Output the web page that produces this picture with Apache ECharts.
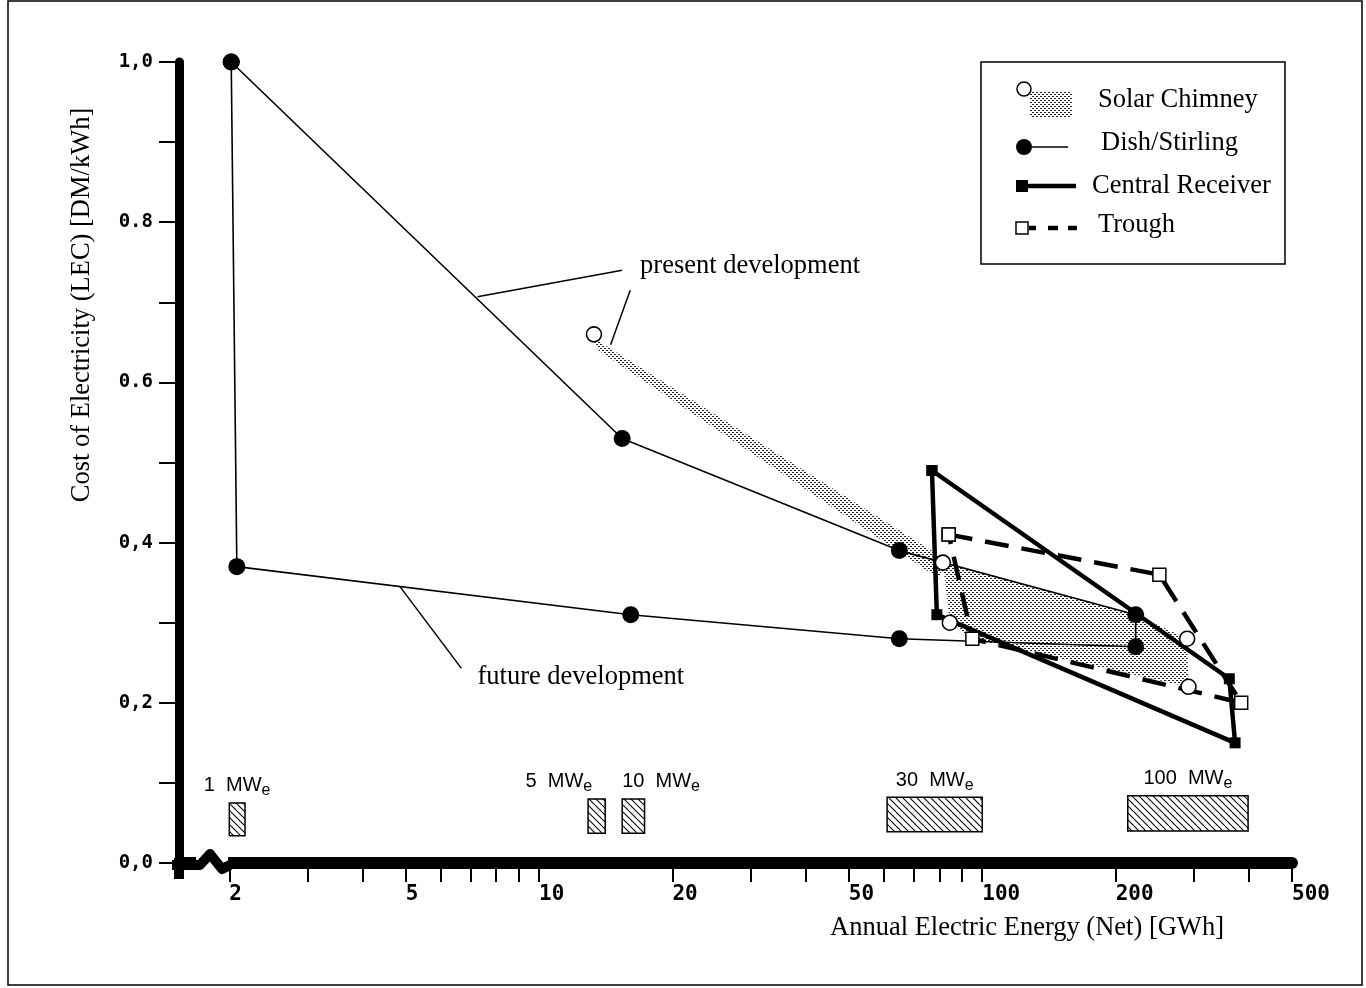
<!DOCTYPE html>
<html><head><meta charset="utf-8">
<script src="https://cdn.jsdelivr.net/npm/echarts@6/dist/echarts.min.js"></script>
<style>html,body{margin:0;padding:0;background:#fff}#c{width:1366px;height:988px}</style>
</head><body><div id="c"></div>
<script>
// ---------------- data ----------------
const xTickValues = [2,3,4,5,6,7,8,9,10,20,30,40,50,60,70,80,90,100,200,300,400,500];
const xLabelValues = [2,5,10,20,50,100,200,500];
const yTickValues = [0, 0.2, 0.4, 0.6, 0.8, 1.0];
const yTickLabels = ['0,0', '0,2', '0,4', '0.6', '0.8', '1,0'];

// Dish/Stirling (closed outline: present development on top, future development below)
const dishX = [2.02, 15.4, 65, 222, 222, 65, 16.1, 2.08, 2.02];
const dishY = [1.00, 0.53, 0.39, 0.31, 0.27, 0.28, 0.31, 0.37, 1.00];

// Central Receiver
const receiverX = [77, 361, 372, 79, 77];
const receiverY = [0.49, 0.23, 0.15, 0.31, 0.49];

// Trough
const troughX = [84, 251, 384, 95, 84];
const troughY = [0.41, 0.36, 0.20, 0.28, 0.41];

// Solar Chimney points
const chimneyX = [13.3, 81.5, 84.5, 290, 292];
const chimneyY = [0.66, 0.375, 0.30, 0.28, 0.22];
// Solar Chimney shaded areas
const chimneyBandX = [13.3, 82, 80, 13.6];
const chimneyBandY = [0.655, 0.38, 0.355, 0.64];
const chimneyAreaX = [81.5, 222, 290, 292, 95, 84.5];
const chimneyAreaY = [0.375, 0.31, 0.28, 0.22, 0.28, 0.30];

// plant sizes (MWe) and their energy ranges
const plantLabels = ['1', '5', '10', '30', '100'];
const plantFrom = [2.0, 12.9, 15.4, 61, 213];
const plantTo = [2.17, 14.1, 17.3, 100, 398];
const plantYLow = [0.034, 0.037, 0.037, 0.039, 0.040];
const plantYHigh = [0.075, 0.080, 0.080, 0.082, 0.084];
const plantAlign = ['center', 'right', 'left', 'center', 'center'];

// annotations
const annoTexts = ['present development', 'future development'];
const annoX = [16.9, 7.26];
const annoY = [0.745, 0.232];
const leader1X = [7.26, 15.4], leader1Y = [0.707, 0.740];
const leader2X = [16.06, 14.5], leader2Y = [0.715, 0.647];
const leader3X = [4.84, 6.68], leader3Y = [0.346, 0.243];

// ---------------- helpers ----------------
const zip = (xs, ys) => xs.map((x, i) => [x, ys[i]]);
function makeDots() {
  const c = document.createElement('canvas'); c.width = 4; c.height = 4;
  const g = c.getContext('2d'); g.fillStyle = '#222';
  g.fillRect(0, 0, 2, 1); g.fillRect(2, 2, 2, 1);
  return c;
}
function makeHatch() {
  const c = document.createElement('canvas'); c.width = 7; c.height = 7;
  const g = c.getContext('2d'); g.strokeStyle = '#000'; g.lineWidth = 1.1;
  for (const k of [-7, 0, 7]) { g.beginPath(); g.moveTo(k, 0); g.lineTo(k + 7, 7); g.stroke(); }
  return c;
}
const dotPattern = { image: makeDots(), repeat: 'repeat' };
const hatchPattern = { image: makeHatch(), repeat: 'repeat' };
const SERIF = '"Liberation Serif", "Times New Roman", serif';
const MONO = '"DejaVu Sans Mono", monospace';
const SANS = '"Liberation Sans", Arial, sans-serif';
const FS = 26.5;

const chart = echarts.init(document.getElementById('c'), null, { renderer: 'canvas' });

const leaderSeries = [[leader1X, leader1Y], [leader2X, leader2Y], [leader3X, leader3Y]].map(([xs, ys]) => ({
  type: 'line', data: zip(xs, ys), symbol: 'none', silent: true, z: 2,
  lineStyle: { color: '#000', width: 1.5 }
}));

const option = {
  animation: false,
  backgroundColor: '#fff',
  grid: { left: 179, right: 74, top: 62, bottom: 125, containLabel: false },
  xAxis: {
    type: 'log', min: 1.54, max: 500, logBase: 10,
    axisLine: { show: true, lineStyle: { color: '#000', width: 12 } },
    axisTick: { show: true, customValues: xTickValues, length: 19, lineStyle: { color: '#000', width: 2 } },
    axisLabel: { show: true, customValues: xLabelValues, align: 'left', margin: 21,
      fontFamily: MONO, fontSize: 21, fontWeight: 'bold', color: '#000',
      formatter: v => String(Math.round(v)) },
    splitLine: { show: false }, minorTick: { show: false }
  },
  yAxis: {
    type: 'value', min: 0, max: 1.0, interval: 0.1,
    axisLine: { show: true, lineStyle: { color: '#000', width: 9 } },
    axisTick: { show: true, length: 20, lineStyle: { color: '#000', width: 2 } },
    axisLabel: { show: true, margin: 26, fontFamily: MONO, fontSize: 19, fontWeight: 'bold', color: '#000',
      formatter: v => {
        const i = yTickValues.findIndex(t => Math.abs(t - v) < 1e-6);
        return i >= 0 ? yTickLabels[i] : '';
      } },
    splitLine: { show: false }
  },
  series: [
    {
      type: 'custom', name: 'Solar Chimney area', silent: true, z: 1,
      data: [[chimneyBandX[0], chimneyBandY[0], 0], [chimneyAreaX[0], chimneyAreaY[0], 1]],
      encode: { x: 0, y: 1 },
      renderItem(params, api) {
        const k = api.value(2);
        const xs = k === 0 ? chimneyBandX : chimneyAreaX;
        const ys = k === 0 ? chimneyBandY : chimneyAreaY;
        const pts = xs.map((x, i) => api.coord([x, ys[i]]));
        return { type: 'polygon', shape: { points: pts }, style: { fill: dotPattern, stroke: null } };
      }
    },
    {
      type: 'line', name: 'Dish/Stirling', data: zip(dishX, dishY), z: 3,
      symbol: 'circle', symbolSize: 17, showAllSymbol: true,
      itemStyle: { color: '#000', opacity: 1 }, lineStyle: { color: '#000', width: 1.6 }
    },
    {
      type: 'line', name: 'Central Receiver', data: zip(receiverX, receiverY), z: 3,
      symbol: 'rect', symbolSize: 11, showAllSymbol: true,
      itemStyle: { color: '#000', opacity: 1 }, lineStyle: { color: '#000', width: 4.5 }
    },
    {
      type: 'line', name: 'Trough', data: zip(troughX, troughY), z: 4,
      symbol: 'rect', symbolSize: 13, showAllSymbol: true,
      itemStyle: { color: '#fff', borderColor: '#000', borderWidth: 1.5, opacity: 1 },
      lineStyle: { color: '#000', width: 4.5, type: [24, 13] }
    },
    {
      type: 'scatter', name: 'Solar Chimney', data: zip(chimneyX, chimneyY), z: 5,
      symbol: 'circle', symbolSize: 15,
      itemStyle: { color: '#fff', borderColor: '#000', borderWidth: 1.6, opacity: 1 }
    },
    ...leaderSeries,
    {
      type: 'custom', name: 'annotations', silent: true, z: 6,
      data: annoX.map((x, i) => [x, annoY[i], i]),
      encode: { x: 0, y: 1 },
      renderItem(params, api) {
        const p = api.coord([api.value(0), api.value(1)]);
        return { type: 'text', x: p[0], y: p[1],
          style: { text: annoTexts[api.value(2)], fontFamily: SERIF, fontSize: FS, fill: '#000',
            align: 'left', verticalAlign: 'middle' } };
      }
    },
    {
      type: 'custom', name: 'plant size', silent: true, z: 6,
      data: plantLabels.map((l, i) => [plantFrom[i], plantTo[i], plantYLow[i], plantYHigh[i], i]),
      encode: { x: [0, 1], y: [2, 3] },
      renderItem(params, api) {
        const i = api.value(4);
        const a = api.coord([api.value(0), api.value(3)]);
        const b = api.coord([api.value(1), api.value(2)]);
        const al = plantAlign[i];
        const lx = al === 'center' ? (a[0] + b[0]) / 2 : (al === 'left' ? a[0] : b[0] - 13);
        return { type: 'group', children: [
          { type: 'rect', shape: { x: a[0], y: a[1], width: b[0] - a[0], height: b[1] - a[1] },
            style: { fill: hatchPattern, stroke: '#000', lineWidth: 1.5 } },
          { type: 'text', x: lx, y: a[1] - 17,
            style: { text: '{n|' + plantLabels[i] + '}  {m|MW}{s|e}', align: al, verticalAlign: 'middle',
              fontFamily: SANS, fontSize: 20, fill: '#000',
              rich: { n: { fontFamily: SANS, fontSize: 20, fill: '#000' },
                      m: { fontFamily: SANS, fontSize: 20, fill: '#000' },
                      s: { fontFamily: SANS, fontSize: 16, fill: '#000', padding: [10, 0, 0, 0] } } } }
        ] };
      }
    }
  ],
  graphic: [
    { type: 'rect', shape: { x: 8, y: 1, width: 1354, height: 984 }, style: { fill: null, stroke: '#000', lineWidth: 1.5 }, z: 0 },
    // axis break
    { type: 'rect', shape: { x: 174, y: 858, width: 10, height: 21 }, style: { fill: '#000' }, z: 50 },
    { type: 'rect', shape: { x: 196, y: 855, width: 32, height: 18 }, style: { fill: '#fff' }, z: 50 },
    { type: 'polyline', shape: { points: [[172, 865], [200, 865], [210, 854], [222, 869], [230, 865]] },
      style: { stroke: '#000', lineWidth: 10, lineJoin: 'round', fill: null }, z: 51 },
    // axis titles
    { type: 'text', x: 1027, y: 928, style: { text: 'Annual Electric Energy (Net) [GWh]', fontFamily: SERIF, fontSize: FS, fill: '#000', align: 'center', verticalAlign: 'middle' }, z: 50 },
    { type: 'text', x: 82, y: 305, rotation: Math.PI / 2, style: { text: 'Cost of Electricity (LEC) [DM/kWh]', fontFamily: SERIF, fontSize: FS, fill: '#000', align: 'center', verticalAlign: 'middle' }, z: 50 },
    // legend
    { type: 'group', z: 60, children: [
      { type: 'rect', shape: { x: 981, y: 62, width: 304, height: 202 }, style: { fill: '#fff', stroke: '#000', lineWidth: 1.5 } },
      { type: 'rect', shape: { x: 1030, y: 92, width: 42, height: 26 }, style: { fill: dotPattern } },
      { type: 'circle', shape: { cx: 1024, cy: 89, r: 7 }, style: { fill: '#fff', stroke: '#000', lineWidth: 1.5 } },
      { type: 'text', x: 1098, y: 100, style: { text: 'Solar Chimney', fontFamily: SERIF, fontSize: FS, fill: '#000', verticalAlign: 'middle' } },
      { type: 'line', shape: { x1: 1024, y1: 147, x2: 1068, y2: 147 }, style: { stroke: '#000', lineWidth: 1.5 } },
      { type: 'circle', shape: { cx: 1024, cy: 147, r: 8 }, style: { fill: '#000' } },
      { type: 'text', x: 1101, y: 143, style: { text: 'Dish/Stirling', fontFamily: SERIF, fontSize: FS, fill: '#000', verticalAlign: 'middle' } },
      { type: 'line', shape: { x1: 1020, y1: 186, x2: 1076, y2: 186 }, style: { stroke: '#000', lineWidth: 4.5 } },
      { type: 'rect', shape: { x: 1016, y: 180, width: 12, height: 12 }, style: { fill: '#000' } },
      { type: 'text', x: 1092, y: 186, style: { text: 'Central Receiver', fontFamily: SERIF, fontSize: FS, fill: '#000', verticalAlign: 'middle' } },
      { type: 'line', shape: { x1: 1029, y1: 228, x2: 1036, y2: 228 }, style: { stroke: '#000', lineWidth: 4.5 } },
      { type: 'line', shape: { x1: 1048, y1: 228, x2: 1058, y2: 228 }, style: { stroke: '#000', lineWidth: 4.5 } },
      { type: 'line', shape: { x1: 1068, y1: 228, x2: 1077, y2: 228 }, style: { stroke: '#000', lineWidth: 4.5 } },
      { type: 'rect', shape: { x: 1016, y: 222, width: 12, height: 12 }, style: { fill: '#fff', stroke: '#000', lineWidth: 1.5 } },
      { type: 'text', x: 1098, y: 225, style: { text: 'Trough', fontFamily: SERIF, fontSize: FS, fill: '#000', verticalAlign: 'middle' } }
    ] }
  ]
};
chart.setOption(option);
</script>
</body></html>
